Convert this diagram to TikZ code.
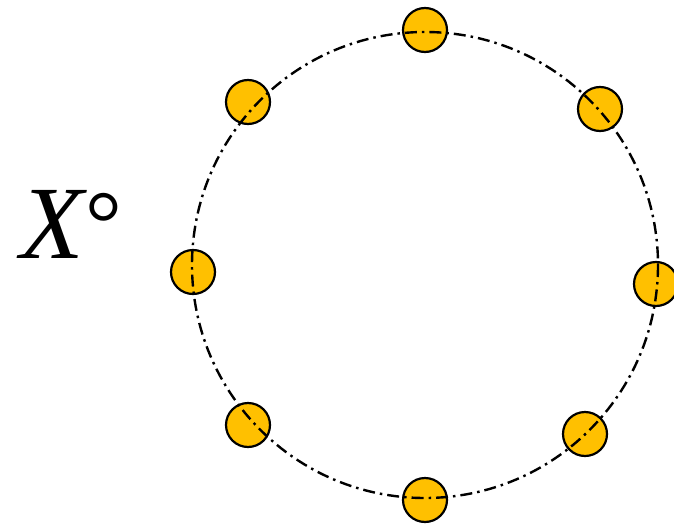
\documentclass[tikz,border=0pt]{standalone}
\usepackage{fontspec}
\newfontfamily\labelfont{Liberation Serif}

\definecolor{beadyellow}{HTML}{FFC000}

\begin{document}
\begin{tikzpicture}[x=1pt,y=-1pt,
  bead/.style={circle,draw=black,fill=beadyellow,line width=2.2pt,
    minimum size=44pt,inner sep=0pt},
  ring/.style={line width=2.4pt,dash pattern=on 12pt off 5pt on 2.5pt off 5pt}]
\useasboundingbox (0,0) rectangle (674,527);
% ---------- beads around the ring ----------
\coordinate (ctr) at (425,265);
\node[bead] (top)   at (425,30)  {};
\node[bead] (topr)  at (600,109) {};
\node[bead] (right) at (656,284) {};
\node[bead] (botr)  at (585,434) {};
\node[bead] (bot)   at (425,500) {};
\node[bead] (botl)  at (248,425) {};
\node[bead] (left)  at (193,272) {};
\node[bead] (topl)  at (248,102) {};
% ---------- dash-dot ring ----------
\draw[ring] (ctr) circle[radius=233];
% ---------- label ----------
\node[inner sep=0pt,anchor=base west] (lbl) at (20,258)
  {\labelfont\fontsize{104}{104}\selectfont\itshape X\hspace{2pt}{\upshape\fontsize{92}{92}\selectfont\raisebox{4pt}{°}}};
\end{tikzpicture}
\end{document}
